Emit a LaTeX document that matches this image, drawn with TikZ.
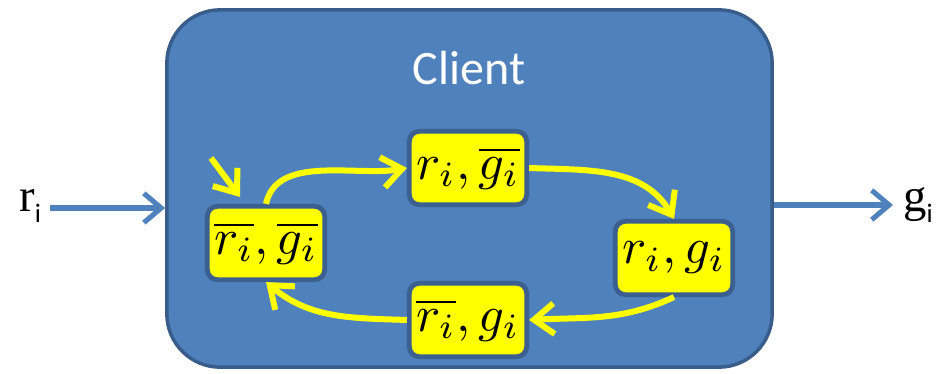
\documentclass[tikz,border=0pt]{standalone}
\usepackage{graphicx}
\usepackage{fontspec}
\newfontfamily\calibri{Carlito}
\newfontfamily\timesfont{Liberation Serif}
\usetikzlibrary{arrows.meta}
\definecolor{clientblue}{HTML}{4F81BD}
\definecolor{clientedge}{HTML}{385D8A}
\definecolor{stateedge}{HTML}{3B5F8E}
\definecolor{stateyellow}{HTML}{FFFF00}
% state labels are set at 10pt and enlarged
\newcommand{\statelabel}[1]{\scalebox{3.8}{$#1$}}
\tikzset{
  statebox/.style={draw=stateedge, fill=stateyellow, line width=3.6pt,
    rounded corners=7.5pt, minimum width=88pt, minimum height=55pt,
    inner sep=0pt},
  trans/.style={draw=stateyellow, line width=4.5pt,
    -{Straight Barb[length=15pt,width=23pt,line width=4.5pt]}},
  io/.style={draw=clientblue, line width=3.8pt,
    -{Straight Barb[length=13pt,width=22pt,line width=3.8pt]}},
}
\begin{document}
\begin{tikzpicture}[x=0.75pt,y=-0.75pt]
\useasboundingbox (0,0) rectangle (939,374);
% client container
\node[draw=clientedge, fill=clientblue, line width=2.6pt, rounded corners=40pt,
      minimum width=454pt, minimum height=268pt] (client) at (469.5,188.5) {};
\node[text=white, font=\calibri\fontsize{36}{36}\selectfont] (title) at (469,68) {Client};
% states
\node[statebox] (s00) at (266,243) {\statelabel{\overline{r_i},\overline{g_i}}};
\node[statebox] (s10) at (468,168) {\statelabel{r_i,\overline{g_i}}};
\node[statebox] (s11) at (674,258) {\statelabel{r_i,g_i}};
\node[statebox] (s01) at (468,320) {\statelabel{\overline{r_i},g_i}};
% transitions
\coordinate (init) at (211,158);
\draw[trans] (init) -- ([shift={(-26,-7)}]s00.north);
\draw[trans] (s00.north) to[out=78,in=190,looseness=0.9] (s10.west);
\draw[trans] (s10.east) to[out=-2,in=120] (s11.north);
\draw[trans] (s11.south) to[out=-155,in=3] (s01.east);
\draw[trans] (s01.west) to[out=178,in=-40] (s00.south);
% inputs and outputs
\coordinate (rin) at (50,208);
\coordinate (gout) at (893,205);
\draw[io] (rin) -- (rin -| client.west);
\draw[io] (gout -| client.east) -- (gout);
\node[anchor=base west, inner sep=0pt] (rlabel) at (19,212)
  {\timesfont\fontsize{35}{35}\selectfont r\raisebox{-8pt}{\calibri\fontsize{20}{20}\selectfont i}};
\node[anchor=base west, inner sep=0pt] (glabel) at (903,212)
  {\timesfont\fontsize{35}{35}\selectfont g\raisebox{-8pt}{\calibri\fontsize{20}{20}\selectfont i}};
\end{tikzpicture}
\end{document}
